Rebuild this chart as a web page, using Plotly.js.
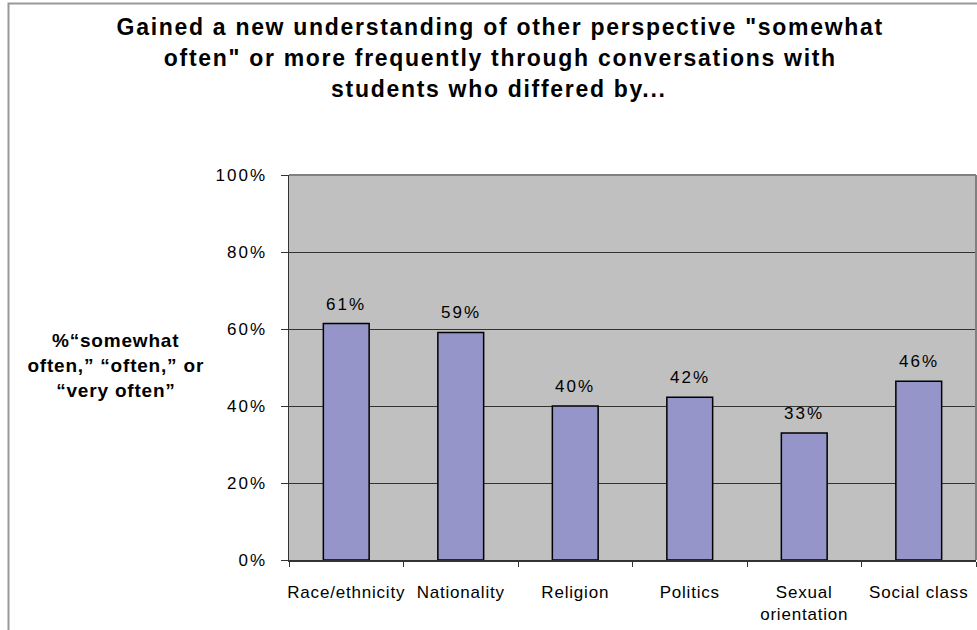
<!DOCTYPE html>
<html>
<head>
<meta charset="utf-8">
<script src="https://cdn.plot.ly/plotly-3.0.1.min.js"></script>
<style>
  html, body { margin: 0; padding: 0; background: #fff; }
  #chart { width: 977px; height: 630px; }
  .ytick text { letter-spacing: 2px; }
  .xtick text { letter-spacing: 0.8px; }
  g.annotation[data-index="0"] text, g.annotation[data-index="1"] text,
  g.annotation[data-index="2"] text, g.annotation[data-index="3"] text,
  g.annotation[data-index="4"] text, g.annotation[data-index="5"] text { letter-spacing: 2px; }
  g.annotation[data-index="6"] text, g.annotation[data-index="7"] text,
  g.annotation[data-index="8"] text { letter-spacing: 1.7px; }
  g.annotation[data-index="9"] text, g.annotation[data-index="10"] text,
  g.annotation[data-index="11"] text { letter-spacing: 0.8px; }
</style>
</head>
<body>
<div id="chart"></div>
<script>
// ---- data ----
const categories = ["Race/ethnicity", "Nationality", "Religion", "Politics", "Sexual<br>orientation", "Social class"];
const values = [61.4, 59.1, 40.0, 42.3, 33.0, 46.4];
const yTickVals = [0, 20, 40, 60, 80, 100];
const yTickText = ["0%", "20%", "40%", "60%", "80%", "100%"];
const titleLines = [
  'Gained a new understanding of other perspective "somewhat',
  'often" or more frequently through conversations with',
  'students who differed by...'
];
const yTitleLines = ['%\u201Csomewhat', 'often,\u201D \u201Coften,\u201D or', '\u201Cvery often\u201D'];

// ---- layout helpers ----
const W = 977, H = 630;
const L = 289, R = 1, T = 175, B = 70;
const pw = W - L - R, ph = H - T - B;
const px = x => (x - L) / pw;          // pixel x -> paper x
const py = y => (H - B - y) / ph;      // pixel y -> paper y

const font = "'Liberation Sans', Arial, sans-serif";

const annotations = [];
// data labels
categories.forEach((c, i) => {
  annotations.push({
    x: c, y: values[i], xref: 'x', yref: 'y',
    text: Math.round(values[i]) + '%',
    showarrow: false, yanchor: 'bottom', yshift: 8,
    font: { family: font, size: 17, color: '#000' }
  });
});
// title lines
const titleX = [500, 500, 499];
const titleY = [27, 58, 89];
titleLines.forEach((t, i) => {
  annotations.push({
    xref: 'paper', yref: 'paper', x: px(titleX[i]), y: py(titleY[i]),
    text: '<b>' + t + '</b>', showarrow: false,
    xanchor: 'center', yanchor: 'middle',
    font: { family: font, size: 23, color: '#000' }
  });
});
// y-axis title lines
const yTitleY = [340, 365, 390];
yTitleLines.forEach((t, i) => {
  annotations.push({
    xref: 'paper', yref: 'paper', x: px(116), y: py(yTitleY[i]),
    text: '<b>' + t + '</b>', showarrow: false,
    xanchor: 'center', yanchor: 'middle',
    font: { family: font, size: 19, color: '#000' }
  });
});

const shapes = [
  // outer frame
  { type: 'rect', xref: 'paper', yref: 'paper',
    x0: px(8.5), x1: px(1100), y0: py(800), y1: py(3.5),
    line: { color: '#999999', width: 2 }, fillcolor: 'rgba(0,0,0,0)', layer: 'below' },
  // plot-area top and right border
  { type: 'line', xref: 'paper', yref: 'paper', x0: 0, x1: 1, y0: 1, y1: 1,
    line: { color: '#808080', width: 2 } },
  { type: 'line', xref: 'paper', yref: 'paper', x0: 1, x1: 1, y0: 0, y1: 1,
    line: { color: '#808080', width: 2 } }
];

const trace = {
  type: 'bar', x: categories, y: values,
  marker: { color: '#9595C9', line: { color: '#000', width: 1.5 } },
  hoverinfo: 'none'
};

const layout = {
  width: W, height: H,
  margin: { l: L, r: R, t: T, b: B, pad: 0 },
  paper_bgcolor: '#fff', plot_bgcolor: '#C0C0C0',
  showlegend: false, bargap: 0.6,
  font: { family: font, size: 17, color: '#000' },
  xaxis: {
    type: 'category', tickson: 'boundaries', ticks: 'outside', ticklen: 5,
    tickcolor: '#333', showline: true, linecolor: '#333', linewidth: 1.5,
    showgrid: false, tickangle: 0, tickfont: { family: font, size: 17, color: '#000' },
    ticklabelstandoff: 16, fixedrange: true
  },
  yaxis: {
    range: [0, 100], tickvals: yTickVals, ticktext: yTickText,
    ticks: 'outside', ticklen: 7, tickcolor: '#333',
    showline: true, linecolor: '#333', linewidth: 1.5,
    showgrid: true, gridcolor: '#333', gridwidth: 1, zeroline: false,
    tickfont: { family: font, size: 17, color: '#000' },
    ticklabelstandoff: 10, fixedrange: true
  },
  annotations: annotations,
  shapes: shapes
};

Plotly.newPlot('chart', [trace], layout, { staticPlot: true, displayModeBar: false });
</script>
</body>
</html>
